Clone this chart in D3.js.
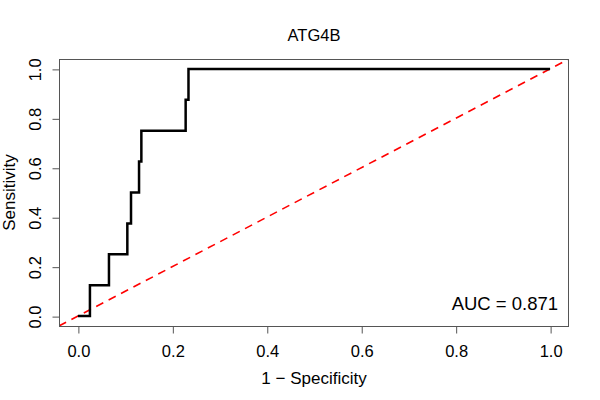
<!DOCTYPE html>
<html><head><meta charset="utf-8">
<script src="https://cdn.jsdelivr.net/npm/d3@7"></script>
<style>body{margin:0;background:#fff}svg{display:block}text{font-family:"Liberation Sans",Arial,sans-serif;fill:#000}</style>
</head><body>
<svg id="c" width="600" height="400"></svg>
<script>
const title = "ATG4B";
const xLabel = "1 \u2212 Specificity";
const yLabel = "Sensitivity";
const aucLabel = "AUC = 0.871";
const ticks = [0, 0.2, 0.4, 0.6, 0.8, 1.0];
const fpr = [0, 0.0255, 0.0658, 0.1047, 0.1125, 0.1295, 0.1344, 0.2282, 0.2342, 1];
const tpr = [0, 0.125, 0.25, 0.375, 0.5, 0.625, 0.75, 0.875, 1, 1];

const svg = d3.select("#c");
const L = 59, R = 569, T = 59, B = 326;
const x = d3.scaleLinear().domain([-0.04, 1.04]).range([L, R]);
const y = d3.scaleLinear().domain([-0.04, 1.04]).range([B, T]);

svg.append("defs").append("clipPath").attr("id","clip")
  .append("rect").attr("x",L).attr("y",T).attr("width",R-L).attr("height",B-T);

// diagonal
svg.append("line").attr("clip-path","url(#clip)")
  .attr("x1",x(-0.04)).attr("y1",y(-0.04)).attr("x2",x(1.04)).attr("y2",y(1.04))
  .attr("stroke","#ff0000").attr("stroke-width",1.6).attr("stroke-dasharray","8,6");

// ROC curve
const pts = fpr.map((f,i)=>[f,tpr[i]]);
svg.append("path").datum(pts)
  .attr("d", d3.line().x(d=>x(d[0])).y(d=>y(d[1])).curve(d3.curveStepAfter))
  .attr("fill","none").attr("stroke","#000").attr("stroke-width",2.5);

// box
svg.append("rect").attr("x",L+0.5).attr("y",T+0.5).attr("width",R-L-1).attr("height",B-T)
  .attr("fill","none").attr("stroke","#555").attr("stroke-width",1);

// x axis
const xa = svg.append("g").attr("transform",`translate(0.5,${B+0.5})`)
  .call(d3.axisBottom(x).tickValues(ticks).tickFormat(d3.format(".1f")).tickSize(7).tickPadding(12));
xa.select(".domain").attr("d",`M${x(0)},0H${x(1)}`).attr("stroke","#555");
xa.selectAll(".tick line").attr("stroke","#555");
xa.selectAll("text").attr("font-size","16.5px").attr("font-family","Liberation Sans, Arial, sans-serif").attr("fill","#000");

// y axis
const ya = svg.append("g").attr("transform",`translate(${L+0.5},0.5)`)
  .call(d3.axisLeft(y).tickValues(ticks).tickFormat(d3.format(".1f")).tickSize(7));
ya.select(".domain").attr("d",`M0,${y(0)}V${y(1)}`).attr("stroke","#555");
ya.selectAll(".tick line").attr("stroke","#555");
ya.selectAll("text").attr("font-size","16.5px").attr("font-family","Liberation Sans, Arial, sans-serif").attr("fill","#000")
  .attr("x",null).attr("dy",null).attr("text-anchor","middle")
  .attr("transform","translate(-19,0) rotate(-90)");

// title
svg.append("text").attr("x",(L+R)/2).attr("y",41).attr("text-anchor","middle")
  .attr("font-size","16.5px").text(title);
// x label
svg.append("text").attr("x",(L+R)/2).attr("y",384).attr("text-anchor","middle")
  .attr("font-size","17px").text(xLabel);
// y label
svg.append("text").attr("transform",`translate(14.5,${(T+B)/2}) rotate(-90)`).attr("text-anchor","middle")
  .attr("font-size","17px").text(yLabel);
// AUC
svg.append("text").attr("x",x(1.017)).attr("y",y(0.025)).attr("text-anchor","end")
  .attr("font-size","18.5px").text(aucLabel);
</script>
</body></html>
